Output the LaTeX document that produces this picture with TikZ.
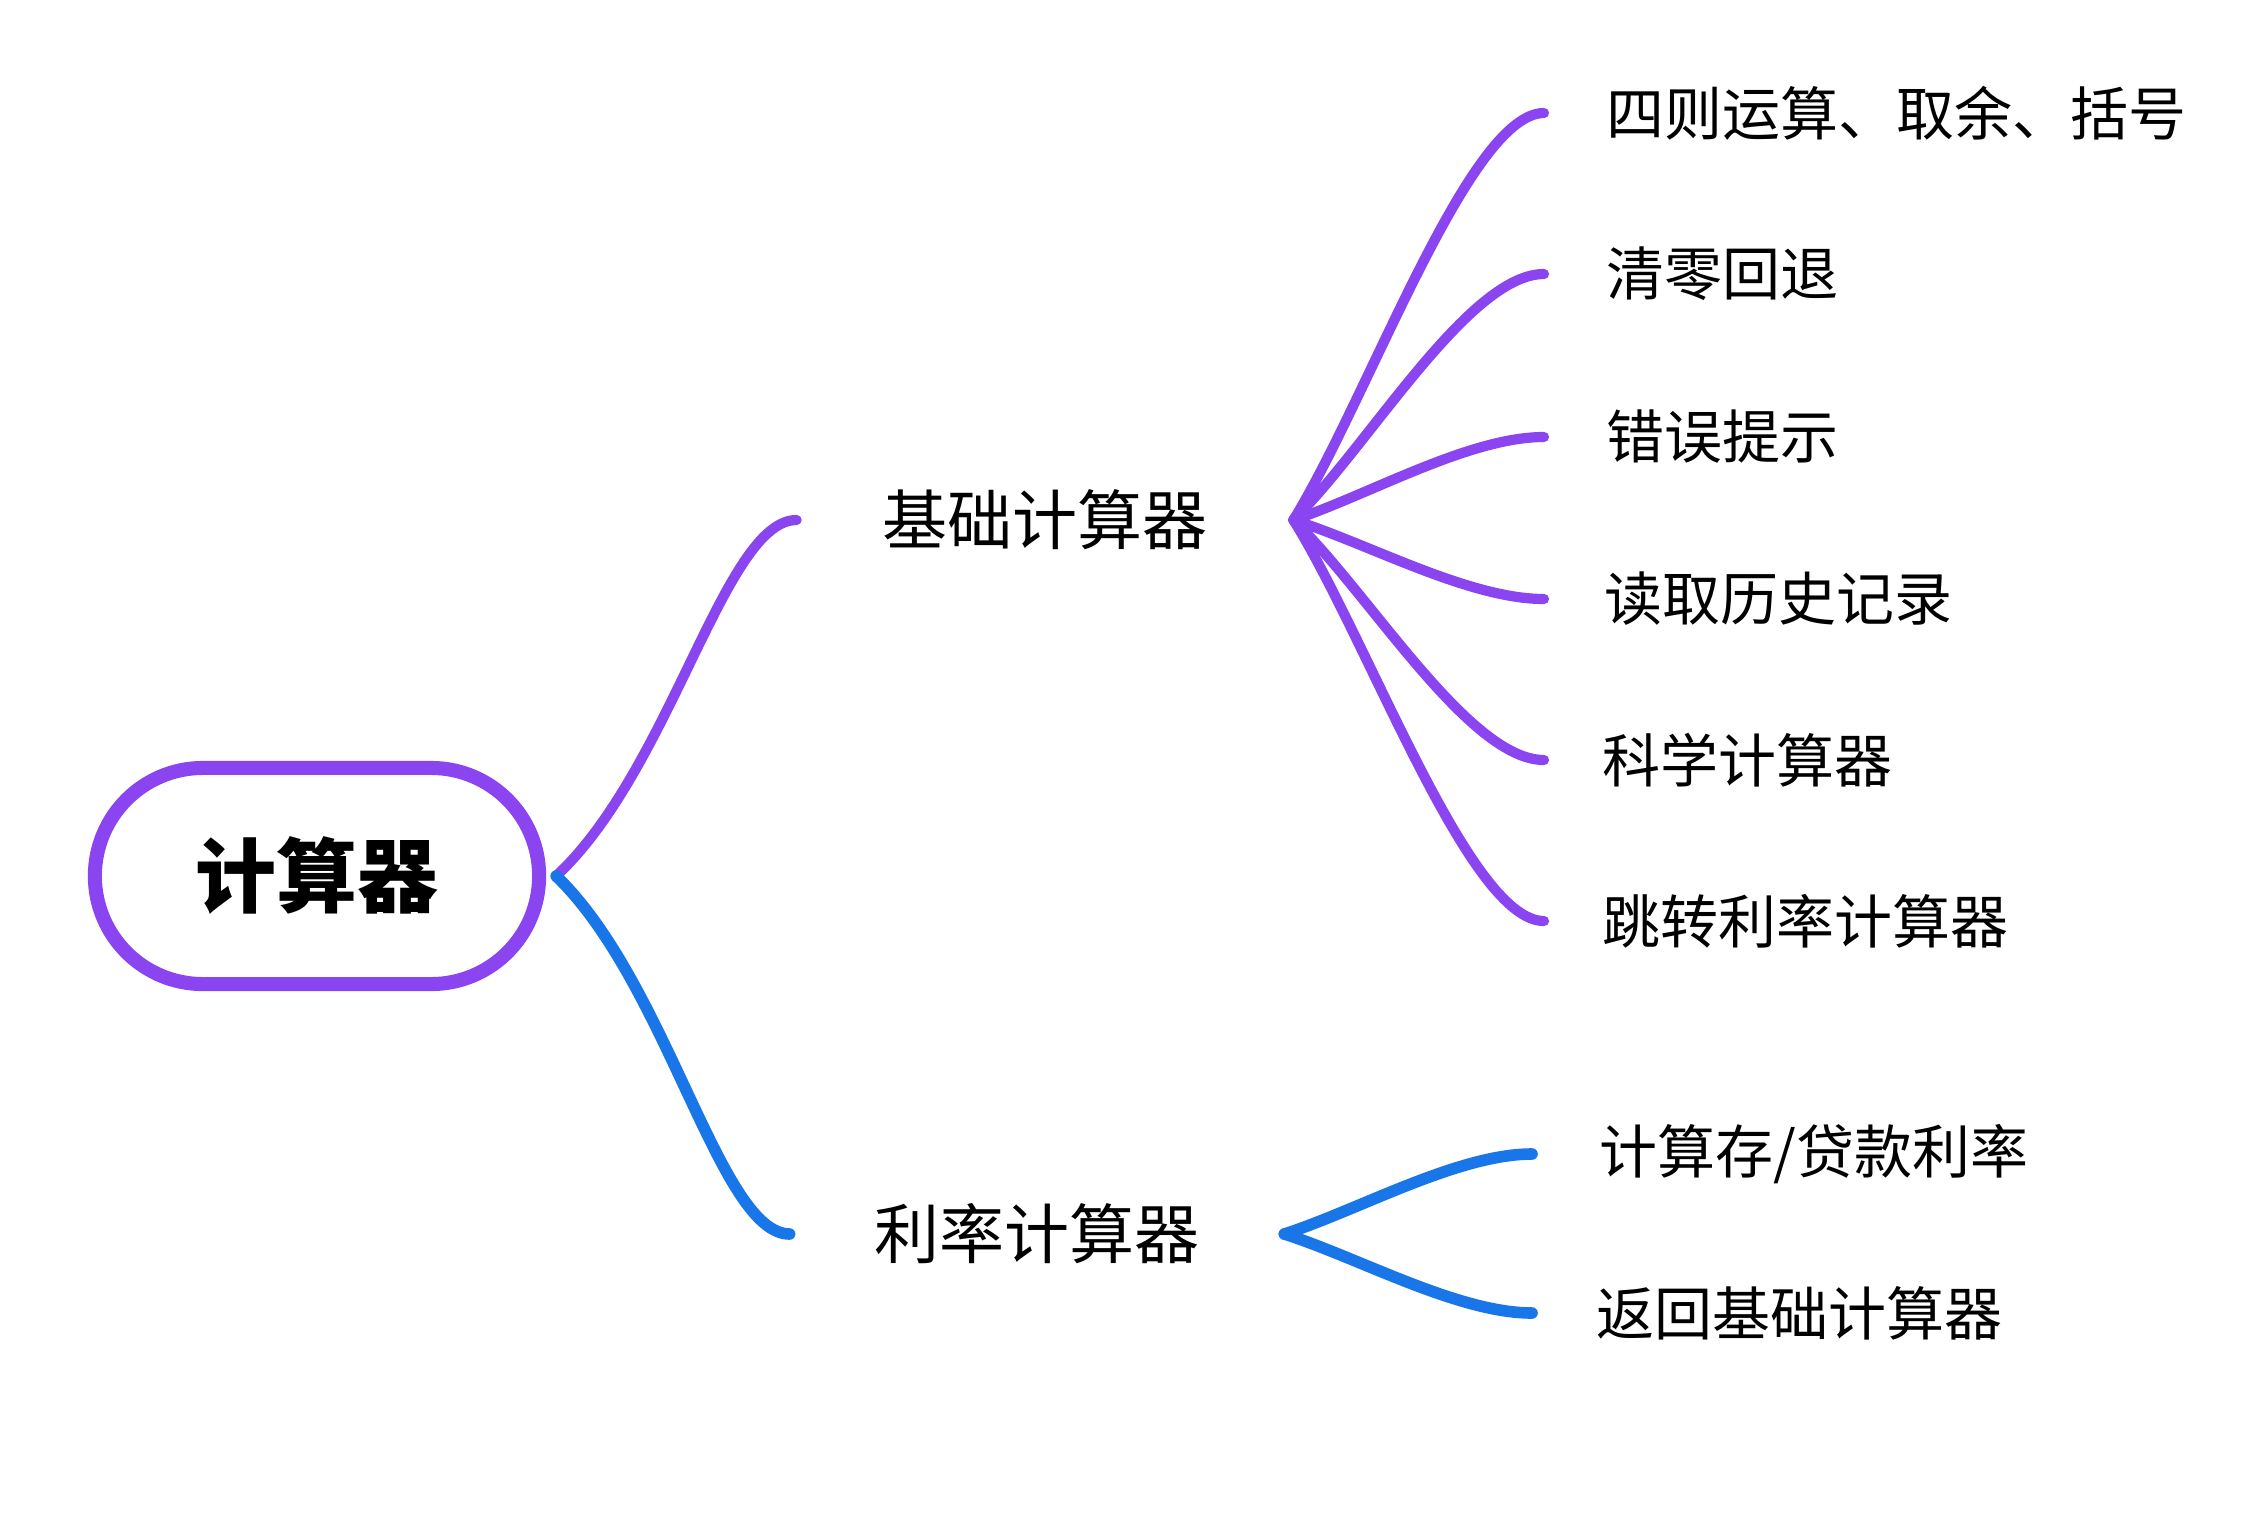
\documentclass[tikz,border=0pt]{standalone}
\usepackage{fontspec}
\setmainfont{Noto Sans CJK SC}
\usetikzlibrary{calc}
\definecolor{mmpurple}{RGB}{138,68,240}
\definecolor{mmblue}{RGB}{25,118,232}
\newcommand\mmcurve[3]{\draw[#1] (#2) .. controls ($(#2)!0.3!(#3)$) and ($(#3)!0.3!(#2|-#3)$) .. (#3);}
\newcommand\mmroot[3]{\draw[#1] (#2) .. controls ($(#2)!0.3!(#3|-#2)!0.15!(#2)!0.3!(#3)$) and ($(#3)!0.3!(#2|-#3)$) .. (#3);}
\begin{document}
\begin{tikzpicture}[x=0.01cm,y=-0.01cm,
  rootbox/.style={draw=mmpurple,line width=4pt,rounded corners=1.08cm,minimum width=4.44cm,minimum height=2.16cm,inner sep=0pt,font=\fontsize{23pt}{27pt}\selectfont\bfseries},
  midbox/.style={inner ysep=0pt,font=\fontsize{18.5pt}{22pt}\selectfont},
  leafbox/.style={anchor=west,inner ysep=0pt,inner xsep=0pt,font=\fontsize{16.5pt}{20pt}\selectfont},
  plink/.style={draw=mmpurple,line width=2.9pt,line cap=round},
  blink/.style={draw=mmblue,line width=3.3pt,line cap=round}]
\fill[white] (0,0) rectangle (2263,1536);
\useasboundingbox (0,0) rectangle (2263,1536);

\node[rootbox] (root) at (317,876) {计算器};

\node[midbox,inner xsep=0.85cm] (basic) at (1045,520) {基础计算器};
\node[midbox,inner xsep=0.84cm] (rate) at (1037,1234) {利率计算器};

\node[leafbox] (l1) at (1606,113) {四则运算、取余、括号};
\node[leafbox] (l2) at (1606,274) {清零回退};
\node[leafbox] (l3) at (1606,437) {错误提示};
\node[leafbox] (l4) at (1604,599) {读取历史记录};
\node[leafbox] (l5) at (1602,760) {科学计算器};
\node[leafbox] (l6) at (1602,921) {跳转利率计算器};
\node[leafbox] (r1) at (1599,1154) {计算存/贷款利率};
\node[leafbox] (r2) at (1596,1313) {返回基础计算器};

\coordinate (rootout) at ($(root.east)+(10,0)$);
\coordinate (l1in) at ($(l1.west)+(-62,0)$);
\coordinate (l2in) at ($(l2.west)+(-62,0)$);
\coordinate (l3in) at ($(l3.west)+(-62,0)$);
\coordinate (l4in) at ($(l4.west)+(-60,0)$);
\coordinate (l5in) at ($(l5.west)+(-58,0)$);
\coordinate (l6in) at ($(l6.west)+(-58,0)$);
\coordinate (r1in) at ($(r1.west)+(-67,0)$);
\coordinate (r2in) at ($(r2.west)+(-64,0)$);

\mmroot{plink}{rootout}{basic.west}
\mmroot{blink}{rootout}{rate.west}

\mmcurve{plink}{basic.east}{l1in}
\mmcurve{plink}{basic.east}{l2in}
\mmcurve{plink}{basic.east}{l3in}
\mmcurve{plink}{basic.east}{l4in}
\mmcurve{plink}{basic.east}{l5in}
\mmcurve{plink}{basic.east}{l6in}

\mmcurve{blink}{rate.east}{r1in}
\mmcurve{blink}{rate.east}{r2in}
\end{tikzpicture}
\end{document}
